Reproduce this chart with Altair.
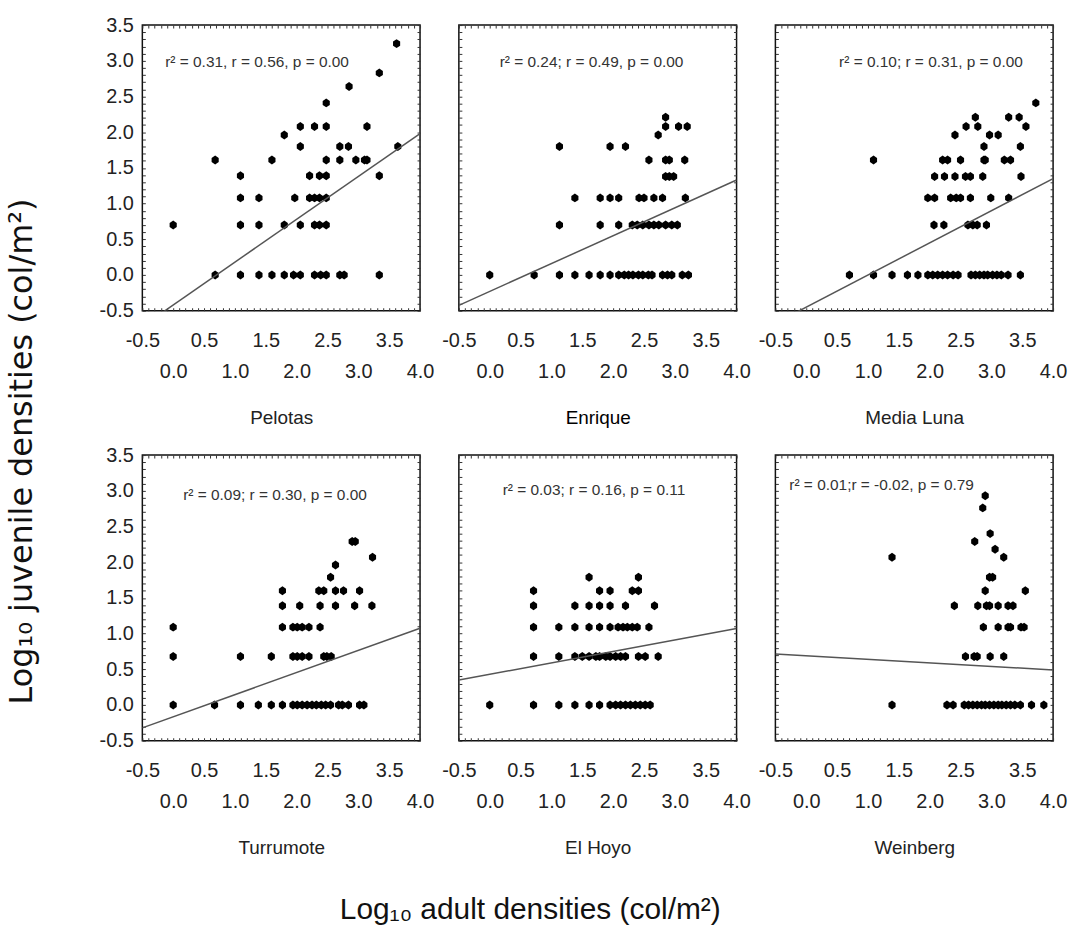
import altair as alt
import pandas as pd

SANS = "Liberation Sans, Arial, sans-serif"
WIDE = "DejaVu Sans, Verdana, sans-serif"

# ---- data: {juvenile level: [adult densities]} ----
pelotas = {
    0.00: [0.68, 1.09, 1.39, 1.60, 1.80, 1.95, 2.06, 2.29, 2.39, 2.48, 2.70, 2.77, 3.34],
    0.70: [0.00, 1.09, 1.39, 1.80, 2.06, 2.29, 2.37, 2.48],
    1.08: [1.09, 1.39, 1.97, 2.21, 2.29, 2.37, 2.48],
    1.39: [1.09, 2.21, 2.37, 2.48, 3.34],
    1.61: [0.68, 1.60, 2.48, 2.70, 2.96, 3.10, 3.14],
    1.80: [2.06, 2.70, 2.84, 3.64],
    1.96: [1.80],
    2.08: [2.06, 2.29, 2.48, 3.14],
    2.41: [2.48],
    2.64: [2.85],
    2.83: [3.34],
    3.24: [3.62],
}
enrique = {
    0.00: [0.00, 0.72, 1.13, 1.38, 1.61, 1.79, 1.95, 2.09, 2.18, 2.25, 2.32, 2.41, 2.48,
           2.57, 2.63, 2.80, 2.88, 2.95, 3.12, 3.22],
    0.70: [1.13, 1.79, 2.09, 2.31, 2.39, 2.48, 2.58, 2.66, 2.74, 2.85, 2.95, 3.04],
    1.08: [1.38, 1.79, 1.95, 2.09, 2.42, 2.50, 2.66, 2.80, 3.17],
    1.38: [2.85, 2.91, 2.98],
    1.61: [2.58, 2.85, 2.91, 3.16],
    1.80: [1.13, 1.95, 2.20],
    1.96: [2.73],
    2.08: [2.85, 3.06, 3.20],
    2.21: [2.85],
}
media_luna = {
    0.00: [0.70, 1.09, 1.39, 1.64, 1.81, 1.97, 2.05, 2.13, 2.21, 2.29, 2.38, 2.46, 2.67,
           2.74, 2.81, 2.88, 2.94, 3.02, 3.09, 3.16, 3.27, 3.47],
    0.70: [2.07, 2.23, 2.62, 2.70, 2.77, 2.92],
    1.08: [1.97, 2.08, 2.34, 2.43, 2.50, 2.66, 2.99, 3.28],
    1.38: [2.08, 2.24, 2.41, 2.58, 2.66, 2.86, 3.48],
    1.61: [1.09, 2.21, 2.29, 2.50, 2.88, 2.90, 3.21, 3.31],
    1.80: [2.88, 3.47],
    1.96: [2.41, 2.97, 3.11],
    2.08: [2.59, 2.78, 3.56],
    2.21: [2.74, 3.28, 3.45],
    2.41: [3.72],
}
turrumote = {
    0.00: [0.00, 0.67, 1.09, 1.38, 1.59, 1.77, 1.94, 2.01, 2.09, 2.17, 2.25, 2.32, 2.40,
           2.47, 2.55, 2.68, 2.74, 2.84, 3.02, 3.09],
    0.68: [0.00, 1.09, 1.59, 1.94, 2.01, 2.09, 2.20, 2.44, 2.49, 2.56],
    1.09: [0.00, 1.77, 1.94, 2.01, 2.09, 2.20, 2.38],
    1.39: [1.77, 2.05, 2.38, 2.63, 2.94, 3.22],
    1.60: [1.77, 2.36, 2.44, 2.63, 2.76, 3.02],
    1.79: [2.55],
    1.96: [2.63],
    2.07: [3.23],
    2.29: [2.90, 2.95],
}
el_hoyo = {
    0.00: [0.00, 0.71, 1.12, 1.38, 1.61, 1.78, 1.95, 2.04, 2.12, 2.20, 2.28, 2.36, 2.44, 2.52, 2.60],
    0.68: [0.71, 1.12, 1.38, 1.50, 1.61, 1.72, 1.78, 1.88, 1.95, 2.04, 2.12, 2.20, 2.41, 2.52, 2.73],
    1.09: [0.71, 1.12, 1.38, 1.61, 1.78, 1.95, 2.08, 2.16, 2.23, 2.31, 2.39, 2.58],
    1.39: [0.71, 1.38, 1.61, 1.78, 1.95, 2.20, 2.67],
    1.60: [0.71, 1.78, 1.95, 2.31, 2.41],
    1.79: [1.61, 2.41],
}
weinberg = {
    0.00: [1.39, 2.28, 2.38, 2.56, 2.63, 2.70, 2.77, 2.84, 2.90, 2.97, 3.04, 3.11, 3.17,
           3.24, 3.31, 3.38, 3.47, 3.65, 3.85],
    0.68: [2.58, 2.72, 2.77, 2.98, 3.20],
    1.09: [2.87, 3.11, 3.27, 3.31, 3.48, 3.53],
    1.39: [2.40, 2.78, 2.92, 2.97, 3.11, 3.27, 3.35],
    1.60: [2.90, 3.55],
    1.79: [2.97, 3.02],
    2.07: [1.39, 3.20],
    2.18: [3.06],
    2.29: [2.73],
    2.40: [2.98],
    2.76: [2.86],
    2.93: [2.90],
}

sites = ["Pelotas", "Enrique", "Media Luna", "Turrumote", "El Hoyo", "Weinberg"]
site_data = [pelotas, enrique, media_luna, turrumote, el_hoyo, weinberg]
intercepts = [-0.42, -0.23, -0.45, -0.165, 0.43, 0.69]
slopes = [0.60, 0.39, 0.45, 0.31, 0.16, -0.05]
stats = [
    "r² = 0.31, r = 0.56, p = 0.00",
    "r² = 0.24; r = 0.49, p = 0.00",
    "r² = 0.10; r = 0.31, p = 0.00",
    "r² = 0.09;  r = 0.30, p = 0.00",
    "r² = 0.03;  r = 0.16, p = 0.11",
    "r² = 0.01;r = -0.02, p = 0.79",
]
x_domain = [-0.5, 4.0]
y_domain = [-0.5, 3.5]

# ---- styling ----
stat_pos = [(23, 37), (41, 37), (64, 37), (41, 40), (44, 35), (14, 30)]
x_ticks = [round(-0.5 + 0.1 * i, 2) for i in range(46)]
y_ticks = [round(-0.5 + 0.1 * i, 2) for i in range(41)]
LAB = "(datum.value < 0 ? '-' : '') + format(abs(datum.value), '.1f')"
X_EXPR = ("abs(datum.value - round(datum.value)) < 0.001 ? [' ', " + LAB + "] : "
          "(abs(datum.value * 2 - round(datum.value * 2)) < 0.001 ? " + LAB + " : '')")
Y_EXPR = "abs(datum.value * 2 - round(datum.value * 2)) < 0.001 ? " + LAB + " : ''"
SHAPE = "M0,-1L0.8,-0.45L0.8,0.45L0,1L-0.8,0.45L-0.8,-0.45Z"
TICK = {"expr": "-3"}


def panel(i):
    name = sites[i]
    rows = [(x, y) for y, xs in site_data[i].items() for x in xs]
    pts = pd.DataFrame(rows, columns=["x", "y"])
    line_df = pd.DataFrame({"x": x_domain})
    line_df["y"] = intercepts[i] + slopes[i] * line_df["x"]
    col = i % 3
    xs = alt.Scale(domain=x_domain, nice=False, zero=False)
    ys = alt.Scale(domain=y_domain, nice=False, zero=False)
    xaxis = alt.Axis(
        values=x_ticks, labelExpr=X_EXPR, labelFont=SANS, labelFontSize=20,
        labelColor="#222", labelLineHeight=31, labelPadding=23, labelOverlap=False,
        labelFlush=False, labelBound=False, tickSize=TICK, tickColor="#333",
        tickWidth=1, domain=False, grid=False, title=name,
        titleFont=SANS, titleFontSize=19, titleFontWeight="normal",
        titleColor="#000" if name == "Enrique" else "#222", titlePadding=27,
    )
    yaxis = alt.Axis(
        values=y_ticks, labels=(col == 0), labelExpr=Y_EXPR, labelFont=SANS,
        labelFontSize=20, labelColor="#222", labelPadding=12, labelOverlap=False,
        labelFlush=False, labelBound=False, tickSize=TICK, tickColor="#333",
        tickWidth=1, domain=False, grid=False, title=None,
    )
    top_axis = alt.Axis(orient="top", values=x_ticks, labels=False, tickSize=TICK,
                        tickColor="#333", domain=False, grid=False, title=None)
    right_axis = alt.Axis(orient="right", values=y_ticks, labels=False, tickSize=TICK,
                          tickColor="#333", domain=False, grid=False, title=None)
    points = alt.Chart(pts).mark_point(
        shape=SHAPE, filled=True, color="black", size=80, opacity=1, strokeWidth=0
    ).encode(
        x=alt.X("x:Q", scale=xs, axis=xaxis),
        y=alt.Y("y:Q", scale=ys, axis=yaxis),
    )
    line = alt.Chart(line_df).mark_line(color="#555", strokeWidth=1.5, clip=True).encode(
        x=alt.X("x:Q", scale=xs, axis=top_axis),
        y=alt.Y("y:Q", scale=ys, axis=right_axis),
    )
    tx, ty = stat_pos[i]
    text = alt.Chart(pd.DataFrame({"t": [stats[i]]})).mark_text(
        align="left", baseline="middle", font=SANS, fontSize=15.5, color="#333"
    ).encode(x=alt.value(tx), y=alt.value(ty), text="t:N")
    return alt.layer(points, line, text).resolve_axis(
        x="independent", y="independent"
    ).properties(width=279, height=287)


grid = alt.concat(
    *[panel(i) for i in range(6)],
    columns=3, spacing={"row": 145, "column": 39}, bounds="flush",
    title=alt.TitleParams("Log₁₀ adult densities (col/m²)", orient="bottom",
                          anchor="middle", font=SANS, fontSize=30,
                          fontWeight="normal", color="#111", offset=37, dx=-53),
)
chart = alt.hconcat(
    grid,
    title=alt.TitleParams("Log₁₀ juvenile densities (col/m²)", orient="left",
                          anchor="middle", font=WIDE, fontSize=32,
                          fontWeight="normal", color="#111", offset=60, dx=18),
).properties(
    padding={"left": 5, "top": 12, "right": 5, "bottom": 5},
    background="white",
).configure_view(stroke="#111", strokeWidth=1.5)

chart.save("out.html", embed_options={"renderer": "svg", "actions": False})
